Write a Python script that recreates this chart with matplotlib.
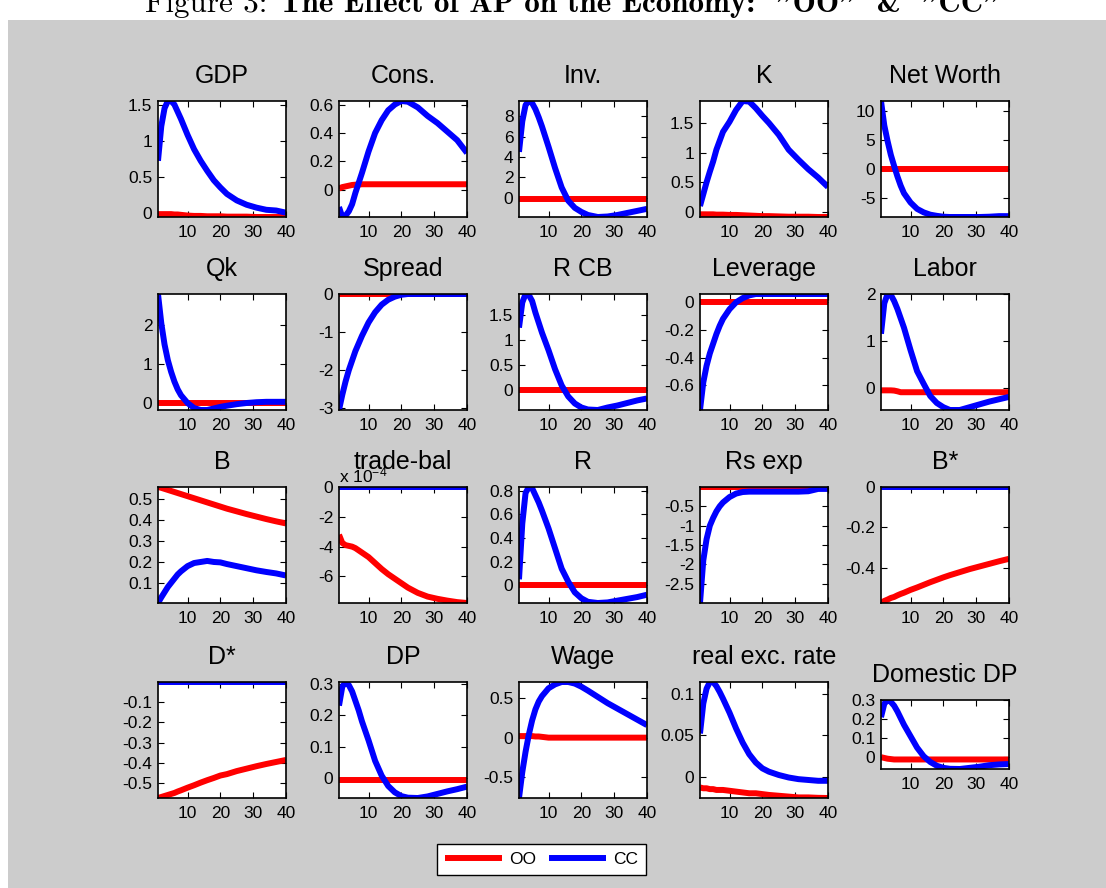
import matplotlib
matplotlib.use('Agg')
import matplotlib.pyplot as plt
from matplotlib.patches import Rectangle
from matplotlib.ticker import FormatStrFormatter, ScalarFormatter

plt.rcParams['font.family'] = ['Liberation Sans', 'DejaVu Sans']
plt.rcParams['axes.unicode_minus'] = False
plt.rcParams['mathtext.default'] = 'regular'

# quarters after the shock (sampled)
periods = [1, 2, 3, 4, 5, 6, 7, 8, 10, 12, 14, 16, 18, 20, 22, 25, 28, 31, 34, 37, 40]

titles = ['GDP', 'Cons.', 'Inv.', 'K', 'Net Worth',
          'Qk', 'Spread', 'R CB', 'Leverage', 'Labor',
          'B', 'trade-bal', 'R', 'Rs exp', 'B*',
          'D*', 'DP', 'Wage', 'real exc. rate', 'Domestic DP']

# OO (red) responses
oo_gdp = [-0.02, -0.02, -0.02, -0.02, -0.02, -0.025, -0.025, -0.03, -0.04, -0.045, -0.045, -0.05, -0.05, -0.05, -0.055, -0.055, -0.055, -0.06, -0.06, -0.06, -0.06]
oo_cons = [0.01, 0.02, 0.025, 0.03, 0.035, 0.037, 0.038, 0.04, 0.04, 0.04, 0.04, 0.04, 0.04, 0.04, 0.04, 0.04, 0.04, 0.04, 0.04, 0.04, 0.04]
oo_inv = [-0.1, -0.1, -0.1, -0.1, -0.1, -0.1, -0.1, -0.1, -0.1, -0.1, -0.1, -0.1, -0.1, -0.1, -0.1, -0.1, -0.1, -0.1, -0.1, -0.1, -0.1]
oo_k = [-0.04, -0.04, -0.04, -0.04, -0.04, -0.045, -0.045, -0.045, -0.05, -0.05, -0.055, -0.06, -0.065, -0.07, -0.07, -0.075, -0.08, -0.08, -0.08, -0.085, -0.085]
oo_nw = [0, 0, 0, 0, 0, 0, 0, 0, 0, 0, 0, 0, 0, 0, 0, 0, 0, 0, 0, 0, 0]
oo_qk = [0, 0, 0, 0, 0, 0, 0, 0, 0, 0, 0, 0, 0, 0, 0, 0, 0, 0, 0, 0, 0]
oo_spread = [0, 0, 0, 0, 0, 0, 0, 0, 0, 0, 0, 0, 0, 0, 0, 0, 0, 0, 0, 0, 0]
oo_rcb = [0, 0, 0, 0, 0, 0, 0, 0, 0, 0, 0, 0, 0, 0, 0, 0, 0, 0, 0, 0, 0]
oo_lev = [0, 0, 0, 0, 0, 0, 0, 0, 0, 0, 0, 0, 0, 0, 0, 0, 0, 0, 0, 0, 0]
oo_labor = [-0.06, -0.06, -0.06, -0.06, -0.065, -0.08, -0.1, -0.1, -0.1, -0.1, -0.1, -0.1, -0.1, -0.1, -0.1, -0.1, -0.1, -0.1, -0.1, -0.1, -0.1]
oo_b = [0.56, 0.556, 0.551, 0.546, 0.541, 0.536, 0.531, 0.526, 0.516, 0.506, 0.496, 0.486, 0.476, 0.466, 0.456, 0.443, 0.43, 0.418, 0.406, 0.395, 0.385]
oo_tb = [-3.2, -3.75, -3.9, -3.95, -4.0, -4.1, -4.25, -4.4, -4.7, -5.1, -5.5, -5.85, -6.15, -6.45, -6.75, -7.1, -7.35, -7.5, -7.62, -7.72, -7.78]  # x 1e-4
oo_r = [0, 0, 0, 0, 0, 0, 0, 0, 0, 0, 0, 0, 0, 0, 0, 0, 0, 0, 0, 0, 0]
oo_rs = [0, 0, 0, 0, 0, 0, 0, 0, 0, 0, 0, 0, 0, 0, 0, 0, 0, 0, 0, 0, 0]
oo_bstar = [-0.575, -0.565, -0.558, -0.55, -0.545, -0.537, -0.53, -0.524, -0.51, -0.498, -0.485, -0.472, -0.46, -0.448, -0.437, -0.422, -0.407, -0.394, -0.381, -0.368, -0.356]
oo_dstar = [-0.573, -0.568, -0.563, -0.558, -0.553, -0.548, -0.541, -0.535, -0.522, -0.51, -0.497, -0.485, -0.474, -0.462, -0.455, -0.44, -0.428, -0.416, -0.405, -0.395, -0.385]
oo_dp = [-0.005, -0.005, -0.005, -0.005, -0.005, -0.005, -0.005, -0.005, -0.005, -0.005, -0.005, -0.005, -0.005, -0.005, -0.005, -0.005, -0.005, -0.005, -0.005, -0.005, -0.005]
oo_wage = [0.02, 0.02, 0.02, 0.02, 0.02, 0.015, 0.015, 0.01, 0.0, 0.0, 0.0, 0.0, 0.0, 0.0, 0.0, 0.0, 0.0, 0.0, 0.0, 0.0, 0.0]
oo_rer = [-0.013, -0.014, -0.014, -0.015, -0.015, -0.016, -0.016, -0.016, -0.017, -0.018, -0.019, -0.02, -0.02, -0.021, -0.022, -0.023, -0.024, -0.025, -0.025, -0.0255, -0.0257]
oo_ddp = [0.0, -0.004, -0.008, -0.01, -0.012, -0.012, -0.012, -0.012, -0.012, -0.012, -0.012, -0.012, -0.012, -0.012, -0.012, -0.012, -0.012, -0.012, -0.012, -0.012, -0.012]

# CC (blue) responses
cc_gdp = [0.72, 1.2, 1.45, 1.55, 1.55, 1.5, 1.4, 1.3, 1.08, 0.88, 0.72, 0.58, 0.45, 0.35, 0.26, 0.17, 0.11, 0.07, 0.04, 0.03, 0.0]
cc_cons = [-0.12, -0.19, -0.18, -0.15, -0.1, -0.02, 0.05, 0.12, 0.27, 0.4, 0.49, 0.56, 0.6, 0.625, 0.62, 0.58, 0.52, 0.47, 0.41, 0.35, 0.26]
cc_inv = [4.5, 7.5, 9.1, 9.5, 9.3, 8.7, 7.9, 7.0, 5.0, 2.9, 1.0, -0.3, -1.0, -1.4, -1.7, -1.9, -1.85, -1.7, -1.5, -1.3, -1.1]
cc_k = [0.1, 0.3, 0.5, 0.68, 0.85, 1.05, 1.2, 1.35, 1.52, 1.72, 1.87, 1.86, 1.75, 1.62, 1.5, 1.3, 1.05, 0.88, 0.72, 0.58, 0.42]
cc_nw = [11.7, 7.5, 4.8, 2.4, 0.5, -1.3, -2.9, -4.2, -5.8, -6.9, -7.5, -7.9, -8.1, -8.25, -8.3, -8.3, -8.3, -8.3, -8.25, -8.15, -8.15]
cc_qk = [2.8, 2.05, 1.5, 1.1, 0.8, 0.55, 0.35, 0.2, 0.0, -0.13, -0.18, -0.18, -0.14, -0.1, -0.07, -0.03, 0.0, 0.02, 0.03, 0.03, 0.03]
cc_spread = [-3.05, -2.65, -2.3, -2.0, -1.75, -1.5, -1.3, -1.1, -0.75, -0.48, -0.28, -0.15, -0.07, -0.02, 0.0, 0.0, 0.0, 0.0, 0.0, 0.0, 0.0]
cc_rcb = [1.25, 1.75, 1.92, 1.9, 1.78, 1.55, 1.35, 1.15, 0.8, 0.42, 0.1, -0.12, -0.26, -0.34, -0.38, -0.39, -0.34, -0.3, -0.25, -0.2, -0.16]
cc_lev = [-0.78, -0.58, -0.46, -0.37, -0.3, -0.23, -0.17, -0.12, -0.05, 0.0, 0.03, 0.05, 0.06, 0.06, 0.06, 0.06, 0.06, 0.06, 0.06, 0.06, 0.06]
cc_labor = [1.15, 1.8, 2.0, 1.98, 1.85, 1.68, 1.48, 1.28, 0.8, 0.35, 0.08, -0.18, -0.33, -0.42, -0.48, -0.48, -0.42, -0.36, -0.3, -0.25, -0.2]
cc_b = [0.003, 0.03, 0.055, 0.08, 0.1, 0.12, 0.14, 0.155, 0.18, 0.195, 0.2, 0.205, 0.2, 0.198, 0.19, 0.18, 0.17, 0.16, 0.152, 0.145, 0.135]
cc_tb = [0, 0, 0, 0, 0, 0, 0, 0, 0, 0, 0, 0, 0, 0, 0, 0, 0, 0, 0, 0, 0]
cc_r = [0.05, 0.52, 0.78, 0.83, 0.82, 0.76, 0.7, 0.63, 0.48, 0.31, 0.14, 0.03, -0.06, -0.11, -0.14, -0.15, -0.145, -0.13, -0.115, -0.1, -0.08]
cc_rs = [-3.0, -1.9, -1.35, -1.0, -0.8, -0.63, -0.5, -0.4, -0.26, -0.17, -0.13, -0.12, -0.12, -0.12, -0.12, -0.12, -0.12, -0.12, -0.11, -0.05, -0.05]
cc_bstar = [0, 0, 0, 0, 0, 0, 0, 0, 0, 0, 0, 0, 0, 0, 0, 0, 0, 0, 0, 0, 0]
cc_dstar = [0, 0, 0, 0, 0, 0, 0, 0, 0, 0, 0, 0, 0, 0, 0, 0, 0, 0, 0, 0, 0]
cc_dp = [0.23, 0.29, 0.305, 0.295, 0.275, 0.245, 0.215, 0.18, 0.12, 0.055, 0.008, -0.025, -0.045, -0.057, -0.062, -0.063, -0.058, -0.05, -0.042, -0.035, -0.027]
cc_wage = [-0.77, -0.44, -0.18, 0.04, 0.22, 0.36, 0.46, 0.53, 0.63, 0.68, 0.71, 0.71, 0.69, 0.65, 0.6, 0.52, 0.44, 0.37, 0.3, 0.23, 0.16]
cc_rer = [0.052, 0.088, 0.106, 0.114, 0.114, 0.109, 0.102, 0.094, 0.077, 0.058, 0.041, 0.027, 0.017, 0.01, 0.006, 0.002, -0.001, -0.003, -0.004, -0.005, -0.005]
cc_ddp = [0.21, 0.28, 0.3, 0.29, 0.27, 0.24, 0.205, 0.17, 0.11, 0.05, 0.005, -0.025, -0.045, -0.056, -0.061, -0.062, -0.056, -0.05, -0.042, -0.038, -0.036]

tb_scale = 1e-4  # trade balance is reported in units of 1e-4

oo = [oo_gdp, oo_cons, oo_inv, oo_k, oo_nw, oo_qk, oo_spread, oo_rcb, oo_lev, oo_labor,
      oo_b, [v * tb_scale for v in oo_tb], oo_r, oo_rs, oo_bstar, oo_dstar, oo_dp, oo_wage, oo_rer, oo_ddp]
cc = [cc_gdp, cc_cons, cc_inv, cc_k, cc_nw, cc_qk, cc_spread, cc_rcb, cc_lev, cc_labor,
      cc_b, [v * tb_scale for v in cc_tb], cc_r, cc_rs, cc_bstar, cc_dstar, cc_dp, cc_wage, cc_rer, cc_ddp]

yticks = [[0, 0.5, 1, 1.5], [0, 0.2, 0.4, 0.6], [0, 2, 4, 6, 8], [0, 0.5, 1, 1.5], [-5, 0, 5, 10],
          [0, 1, 2], [-3, -2, -1, 0], [0, 0.5, 1, 1.5], [-0.6, -0.4, -0.2, 0], [0, 1, 2],
          [0.1, 0.2, 0.3, 0.4, 0.5], [-6e-4, -4e-4, -2e-4, 0], [0, 0.2, 0.4, 0.6, 0.8],
          [-2.5, -2, -1.5, -1, -0.5], [-0.4, -0.2, 0],
          [-0.5, -0.4, -0.3, -0.2, -0.1], [0, 0.1, 0.2, 0.3], [-0.5, 0, 0.5], [0, 0.05, 0.1], [0, 0.1, 0.2, 0.3]]
xticks = [10, 20, 30, 40]


class MatlabSci(ScalarFormatter):
    # matlab style exponent label "x 10^n"
    def get_offset(self):
        if self.orderOfMagnitude == 0:
            return ''
        return 'x 10$^{%d}$' % self.orderOfMagnitude


W, H = 1106, 888
fig = plt.figure(figsize=(W / 100, H / 100), dpi=100, facecolor='white')

# grey matlab figure window
fig.patches.append(Rectangle((8 / W, 0), 1 - 8 / W, 1 - 20 / H, transform=fig.transFigure,
                             facecolor='#cccccc', edgecolor='none', zorder=-1))

# caption of the page, mostly cut off at the top
rend = fig.canvas.get_renderer()
t1 = fig.text(145 / W, 1 - 12 / H, 'Figure 3:', family='cmr10', fontsize=22.4,
              va='baseline', ha='left', zorder=-2)
bb = t1.get_window_extent(rend)
fig.text((bb.x1 + 13) / W, 1 - 12 / H, 'The Effect of AP on the Economy:  "OO"  &  "CC"',
         family='cmb10', fontsize=22.4, va='baseline', ha='left', zorder=-2)

lefts = [158, 339, 519, 700, 881]
tops = [101, 294, 487, 682]
aw, ah = 128, 116

for i in range(20):
    row, col = divmod(i, 5)
    if i == 19:
        box = [881 / W, 1 - 769 / H, aw / W, 69 / H]
    else:
        box = [lefts[col] / W, 1 - (tops[row] + ah) / H, aw / W, ah / H]
    ax = fig.add_axes(box)
    l1, = ax.plot(periods, oo[i], color='#ff0000', lw=4.3, solid_capstyle='butt')
    l2, = ax.plot(periods, cc[i], color='#0000ff', lw=4.3, solid_capstyle='butt')
    ax.margins(0)
    ax.set_xticks(xticks)
    ax.set_yticks(yticks[i])
    if i == 11:
        fmt = MatlabSci()
        fmt.set_powerlimits((-3, 3))
        ax.yaxis.set_major_formatter(fmt)
        ax.yaxis.get_offset_text().set_fontsize(12.5)
    else:
        ax.yaxis.set_major_formatter(FormatStrFormatter('%g'))
    ax.tick_params(direction='in', length=4, width=0.8, top=True, right=True, labelsize=12.5)
    ax.tick_params(axis='x', pad=5.5)
    ax.tick_params(axis='y', pad=4)
    for s in ax.spines.values():
        s.set_linewidth(1.2)
    ax.set_title(titles[i], fontsize=18, pad=13, y=1.0)

fig.legend([l1, l2], ['OO', 'CC'], loc='center', bbox_to_anchor=(541.5 / W, 1 - 859.5 / H),
           ncol=2, fontsize=12.5, frameon=True, fancybox=False, edgecolor='black',
           framealpha=1, handlelength=3.3, handletextpad=0.4, columnspacing=0.75,
           borderpad=0.45)

fig.savefig('out.png', dpi=100, facecolor='white')
